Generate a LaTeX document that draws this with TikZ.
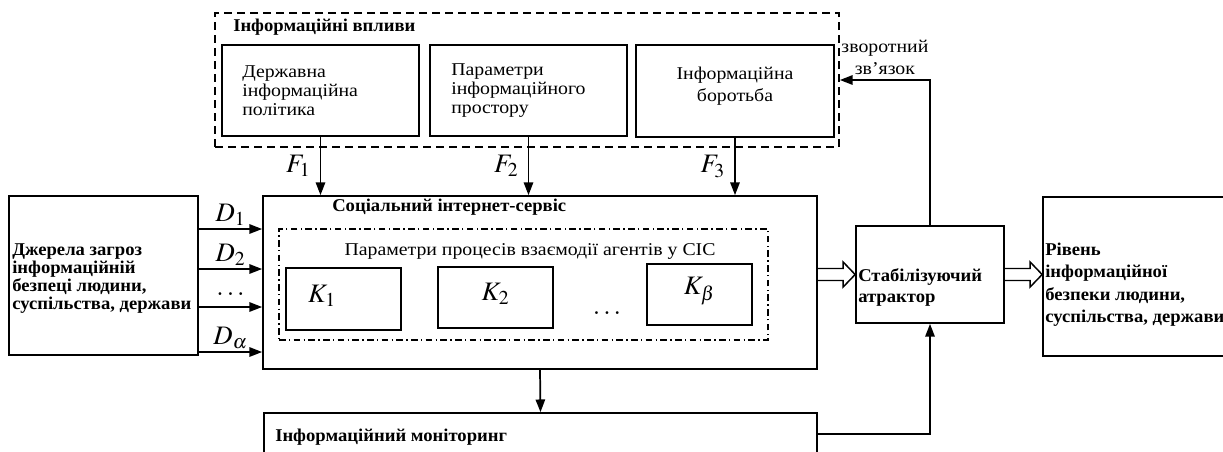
\documentclass[tikz,border=0pt]{standalone}
\usepackage{mathptmx}
\usepackage{fontspec}
\setmainfont{Liberation Serif}[FakeStretch=1.1, BoldFeatures={FakeStretch=1.035}]
\usetikzlibrary{arrows.meta, calc}

\tikzset{
  box/.style={draw, line width=1.3pt, inner sep=0pt},
  txt/.style={inner sep=0pt, anchor=west, align=left, font=\fontsize{13.5}{14.25}\selectfont},
  btxt/.style={txt, font=\fontsize{13.5}{13.5}\selectfont\bfseries},
  lbl/.style={font=\fontsize{20}{20}\selectfont, inner sep=2pt},
  arr/.style={line width=1.3pt, -{Triangle[length=9.5pt, width=7pt]}},
  hollow/.style={line width=1.1pt, line join=miter},
}

\begin{document}
\begin{tikzpicture}[x=0.75pt, y=-0.75pt]
  \useasboundingbox (0,0) rectangle (1223,451);
  \clip (0,0) rectangle (1223,451);

  % Informational influences (dashed group)
  \node[box, dash pattern=on 6pt off 3.75pt, minimum width=624*0.75pt, minimum height=134*0.75pt] (infl) at (527,80) {};
  \node[btxt] (infltitle) at (233,27) {Інформаційні впливи};

  \node[box, minimum width=197*0.75pt, minimum height=91*0.75pt] (pol) at (320.5,90.5) {};
  \node[txt] (poltext) at (242,91) {Державна\\інформаційна\\політика};

  \node[box, minimum width=197*0.75pt, minimum height=91*0.75pt] (par) at (528.5,90.5) {};
  \node[txt] (partext) at (451,91) {Параметри\\інформаційного\\простору};

  \node[box, minimum width=198*0.75pt, minimum height=92*0.75pt] (war) at (735,91) {};
  \node[txt, anchor=center, align=center, font=\fontsize{13.5}{16.5}\selectfont] (wartext) at (735,86) {Інформаційна\\боротьба};

  % Threat sources
  \node[box, minimum width=189*0.75pt, minimum height=159*0.75pt] (src) at (103.5,275.5) {};
  \node[btxt] (srctext) at (12,279) {Джерела загроз\\інформаційній\\безпеці людини,\\суспільства, держави};

  % Social internet service
  \node[box, minimum width=554*0.75pt, minimum height=173*0.75pt] (sis) at (540,282.5) {};
  \node[btxt] (sistitle) at (332,207) {Соціальний інтернет-сервіс};

  \node[draw, line width=1pt, dash pattern=on 5pt off 2.5pt on 1pt off 2.5pt, inner sep=0pt,
        minimum width=489*0.75pt, minimum height=111*0.75pt] (agents) at (523.5,284.5) {};
  \node[txt, anchor=center] (agentstitle) at (530,251) {Параметри процесів взаємодії агентів у СІС};

  \node[box, minimum width=115*0.75pt, minimum height=62*0.75pt] (k1) at (343.5,299) {};
  \node[lbl] (k1lbl) at (322,296) {$K_1$};
  \node[box, minimum width=115*0.75pt, minimum height=61*0.75pt] (k2) at (495.5,297.5) {};
  \node[lbl] (k2lbl) at (495.5,294) {$K_2$};
  \node[lbl] (kdots) at (607,313) {$\dots$};
  \node[box, minimum width=105*0.75pt, minimum height=61*0.75pt] (kb) at (699.5,294.5) {};
  \node[lbl] (kblbl) at (699.5,291) {$K_\beta$};

  % Stabilizing attractor and security level
  \node[box, minimum width=148*0.75pt, minimum height=97*0.75pt] (stab) at (930,274.5) {};
  \node[btxt, font=\fontsize{13.5}{15.75}\selectfont\bfseries] (stabtext) at (858,287) {Стабілізуючий\\атрактор};

  \node[box, minimum width=200*0.75pt, minimum height=159*0.75pt] (lvl) at (1143,276.5) {};
  \node[btxt, font=\fontsize{13.5}{16.9}\selectfont\bfseries] (lvltext) at (1045,284.5) {Рівень\\інформаційної\\безпеки людини,\\суспільства, держави};

  % Monitoring
  \node[box, minimum width=553*0.75pt, minimum height=42*0.75pt] (mon) at (540.5,434) {};
  \node[btxt] (montext) at (275,437) {Інформаційний моніторинг};

  % Influence arrows
  \draw[arr] (pol.south) -- (pol.south |- sis.north) node[lbl, midway, left=5pt] {$F_1$};
  \draw[arr] (par.south) -- (par.south |- sis.north) node[lbl, midway, left=5pt] {$F_2$};
  \draw[arr] (war.south) -- (war.south |- sis.north) node[lbl, midway, left=5pt] {$F_3$};

  % Threat arrows
  \foreach \y/\d in {229/$D_1$, 269/$D_2$, 307/\raisebox{6pt}{$\dots$}, 352/$D_\alpha$}
    \draw[arr] (src.east |- 0,\y) -- (sis.west |- 0,\y) node[lbl, midway, above] {\d};

  % Main flow (hollow arrows)
  \draw[hollow] ($(sis.east |- stab)+(0,-6)$) -- ($(stab.west)+(-12,-6)$) -- ($(stab.west)+(-12,-12.5)$)
    -- (stab.west) -- ($(stab.west)+(-12,12.5)$) -- ($(stab.west)+(-12,6)$) -- ($(sis.east |- stab)+(0,6)$);
  \draw[hollow] ($(stab.east)+(0,-6)$) -- ($(lvl.west |- stab)+(-12,-6)$) -- ($(lvl.west |- stab)+(-12,-12.5)$)
    -- (lvl.west |- stab) -- ($(lvl.west |- stab)+(-12,12.5)$) -- ($(lvl.west |- stab)+(-12,6)$) -- ($(stab.east)+(0,6)$);

  % Monitoring loop and feedback
  \draw[arr] (sis.south) -- (mon.north);
  \draw[arr] (mon.east) -| (stab.south);
  \draw[arr] (stab.north) |- (infl.east)
    node[pos=0.75, above, inner sep=3pt, align=center, font=\fontsize{13.5}{16.5}\selectfont] {зворотний\\зв’язок};
\end{tikzpicture}
\end{document}
